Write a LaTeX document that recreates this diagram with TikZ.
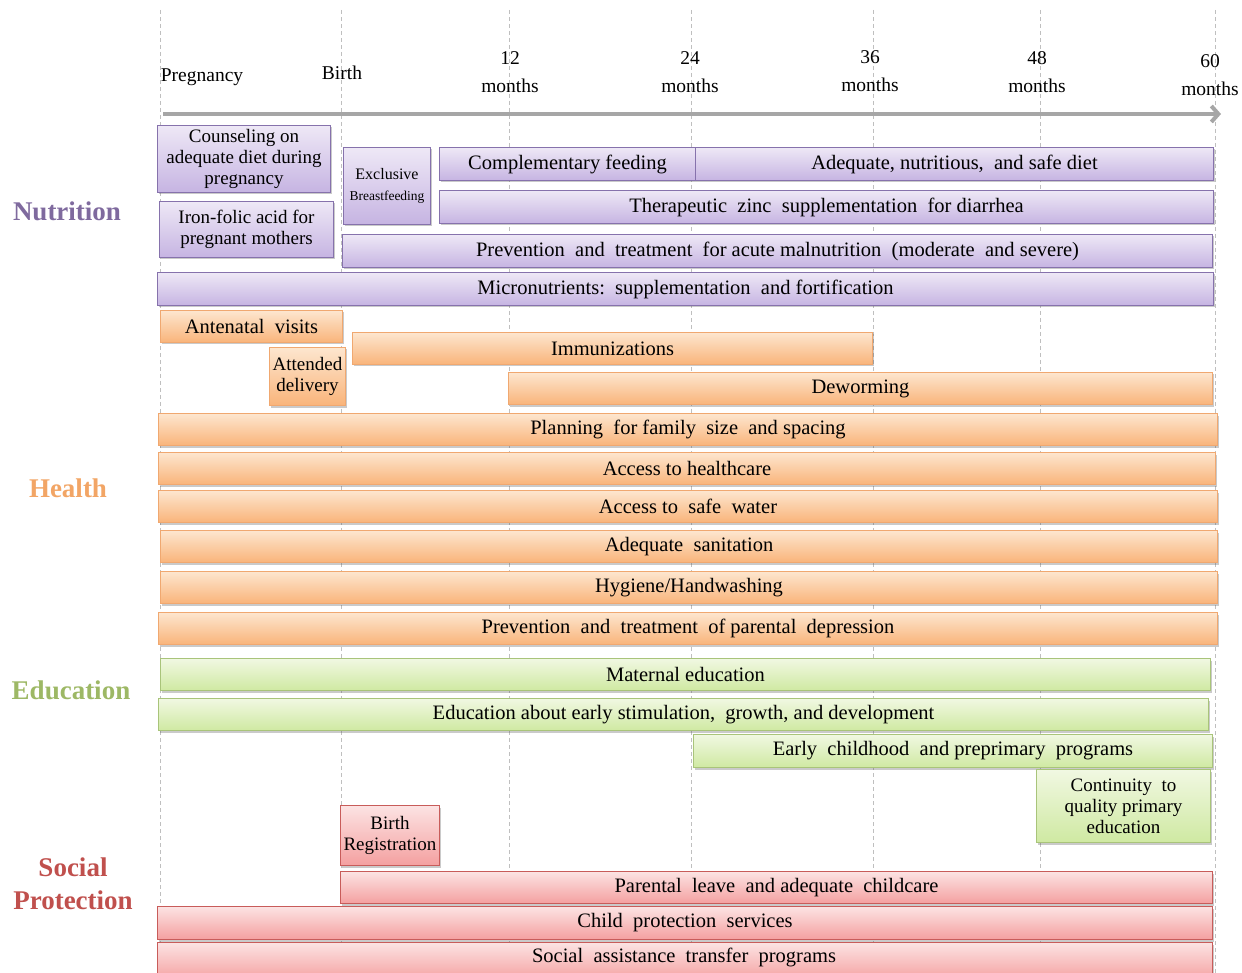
\documentclass[tikz,border=0pt]{standalone}
\usepackage{fontspec}
\setmainfont{Liberation Serif}
\usetikzlibrary{arrows.meta,shadows}
\definecolor{nutT}{HTML}{EEE8F6}
\definecolor{nutB}{HTML}{C6B4E2}
\definecolor{nutD}{HTML}{8672AC}
\definecolor{heaT}{HTML}{FDE6CF}
\definecolor{heaB}{HTML}{F9B47A}
\definecolor{heaD}{HTML}{F0A870}
\definecolor{eduT}{HTML}{F1F8E2}
\definecolor{eduB}{HTML}{CFE9A2}
\definecolor{eduD}{HTML}{A9C47A}
\definecolor{socT}{HTML}{FCE3E3}
\definecolor{socB}{HTML}{F4A0A0}
\definecolor{socD}{HTML}{C85C5A}
\definecolor{nutL}{HTML}{7F6A9E}
\definecolor{heaL}{HTML}{F2A565}
\definecolor{eduL}{HTML}{9DB865}
\definecolor{socL}{HTML}{C0504D}
\newcommand\mybar[7]{\node[#2, anchor=north west, minimum width={(#5-#3)*1pt}, minimum height={(#6-#4)*1pt}] (#1) at (#3,#4) {#7};}
\tikzset{
  bar/.style={rectangle, draw, line width=1pt, inner sep=1pt, align=center, text=black,
    font=\fontsize{20.5}{21}\selectfont,
    drop shadow={shadow xshift=1.5pt, shadow yshift=-2pt, opacity=0.35, fill=black!60}},
  multi/.style={font=\fontsize{19}{21}\selectfont},
  nbox/.style={bar, draw=nutD, top color=nutT, bottom color=nutB},
  hbox/.style={bar, draw=heaD, top color=heaT, bottom color=heaB},
  ebox/.style={bar, draw=eduD, top color=eduT, bottom color=eduB},
  sbox/.style={bar, draw=socD, top color=socT, bottom color=socB},
  grid/.style={draw=black!25, line width=0.8pt, dash pattern=on 4pt off 3pt},
  hdr/.style={align=center, font=\fontsize{19.5}{28}\selectfont, inner sep=0pt},
  cat/.style={align=center, font=\fontsize{27}{33}\selectfont\bfseries, inner sep=0pt},
}
\begin{document}
\begin{tikzpicture}[x=1pt, y=-1pt]
\useasboundingbox (0,0) rectangle (1242,973);
% grid lines
\foreach \gx/\gn in {160/g0,341/g1,509/g2,691/g3,873/g4,1040/g5,1215/g6}{
  \coordinate (\gn t) at (\gx,10);
  \coordinate (\gn b) at (\gx,973);
  \draw[grid] (\gn t) -- (\gn b);
}
% header
\node[hdr] (hpreg) at (202,77) {Pregnancy};
\node[hdr] (hbirth) at (342,73) {Birth};
\node[hdr] (h12) at (510,72) {12\\months};
\node[hdr] (h24) at (690,72) {24\\months};
\node[hdr] (h36) at (870,71) {36\\months};
\node[hdr] (h48) at (1037,72) {48\\months};
\node[hdr] (h60) at (1210,75) {60\\months};
\coordinate (astart) at (163,114);
\coordinate (aend) at (1221,114);
\draw[line width=4pt, draw=black!35, -{Straight Barb[length=7pt,width=16pt]}] (astart) -- (aend);
% category labels
\node[cat, text=nutL] (cnut) at (67,211) {Nutrition};
\node[cat, text=heaL] (chea) at (68,488) {Health};
\node[cat, text=eduL] (cedu) at (71,690) {Education};
\node[cat, text=socL] (csoc) at (73,884) {Social\\Protection};
% Nutrition
\mybar{counsel}{nbox,multi}{157}{125}{330}{192}{Counseling on\\adequate diet during\\pregnancy}
\mybar{iron}{nbox,multi}{159}{201}{333}{257}{Iron-folic acid for\\pregnant mothers}
\mybar{excl}{nbox}{343}{147}{430}{224}{{\fontsize{16}{20}\selectfont Exclusive}\\{\fontsize{13.5}{16}\selectfont Breastfeeding}}
\mybar{compl}{nbox}{439}{147}{695}{180}{Complementary feeding}
\mybar{adeq}{nbox}{695}{147}{1213}{180}{Adequate, nutritious,\ \ and safe diet}
\mybar{zinc}{nbox}{439}{190}{1213}{223}{Therapeutic\ \ zinc\ \ supplementation\ \ for diarrhea}
\mybar{acute}{nbox}{342}{234}{1212}{267}{Prevention\ \ and\ \ treatment\ \ for acute malnutrition\ \ (moderate\ \ and severe)}
\mybar{micro}{nbox}{157}{272}{1213}{305}{Micronutrients:\ \ supplementation\ \ and fortification}
% Health
\mybar{antenatal}{hbox}{160}{310}{342}{342}{Antenatal\ \ visits}
\mybar{attended}{hbox,multi}{269}{347}{345}{405}{Attended\\delivery}
\mybar{immun}{hbox}{352}{332}{872}{364}{Immunizations}
\mybar{deworm}{hbox}{508}{372}{1212}{404}{Deworming}
\mybar{planning}{hbox}{158}{413}{1217}{445}{Planning\ \ for family\ \ size\ \ and spacing}
\mybar{access}{hbox}{158}{452}{1215}{484}{Access to healthcare}
\mybar{water}{hbox}{158}{490}{1217}{522}{Access to\ \ safe\ \ water}
\mybar{sanit}{hbox}{160}{530}{1217}{562}{Adequate\ \ sanitation}
\mybar{hygiene}{hbox}{160}{571}{1217}{603}{Hygiene/Handwashing}
\mybar{depress}{hbox}{158}{612}{1217}{644}{Prevention\ \ and\ \ treatment\ \ of parental\ \ depression}
% Education
\mybar{matern}{ebox}{160}{658}{1210}{690}{Maternal education}
\mybar{stimul}{ebox}{158}{698}{1208}{730}{Education about early stimulation,\ \ growth, and development}
\mybar{early}{ebox}{693}{734}{1212}{767}{Early\ \ childhood\ \ and preprimary\ \ programs}
\mybar{contin}{ebox,multi}{1036}{769}{1210}{842}{Continuity\ \ to\\quality primary\\education}
% Social protection
\mybar{birthreg}{sbox,multi}{340}{805}{439}{865}{Birth\\Registration}
\mybar{parental}{sbox}{340}{871}{1212}{903}{Parental\ \ leave\ \ and adequate\ \ childcare}
\mybar{childprot}{sbox}{157}{906}{1212}{939}{Child\ \ protection\ \ services}
\mybar{socassist}{sbox}{157}{942}{1212}{980}{}
\node[font=\fontsize{20.5}{21}\selectfont, inner sep=0pt] (socassistlabel) at (684,957) {Social\ \ assistance\ \ transfer\ \ programs};
\end{tikzpicture}
\end{document}
